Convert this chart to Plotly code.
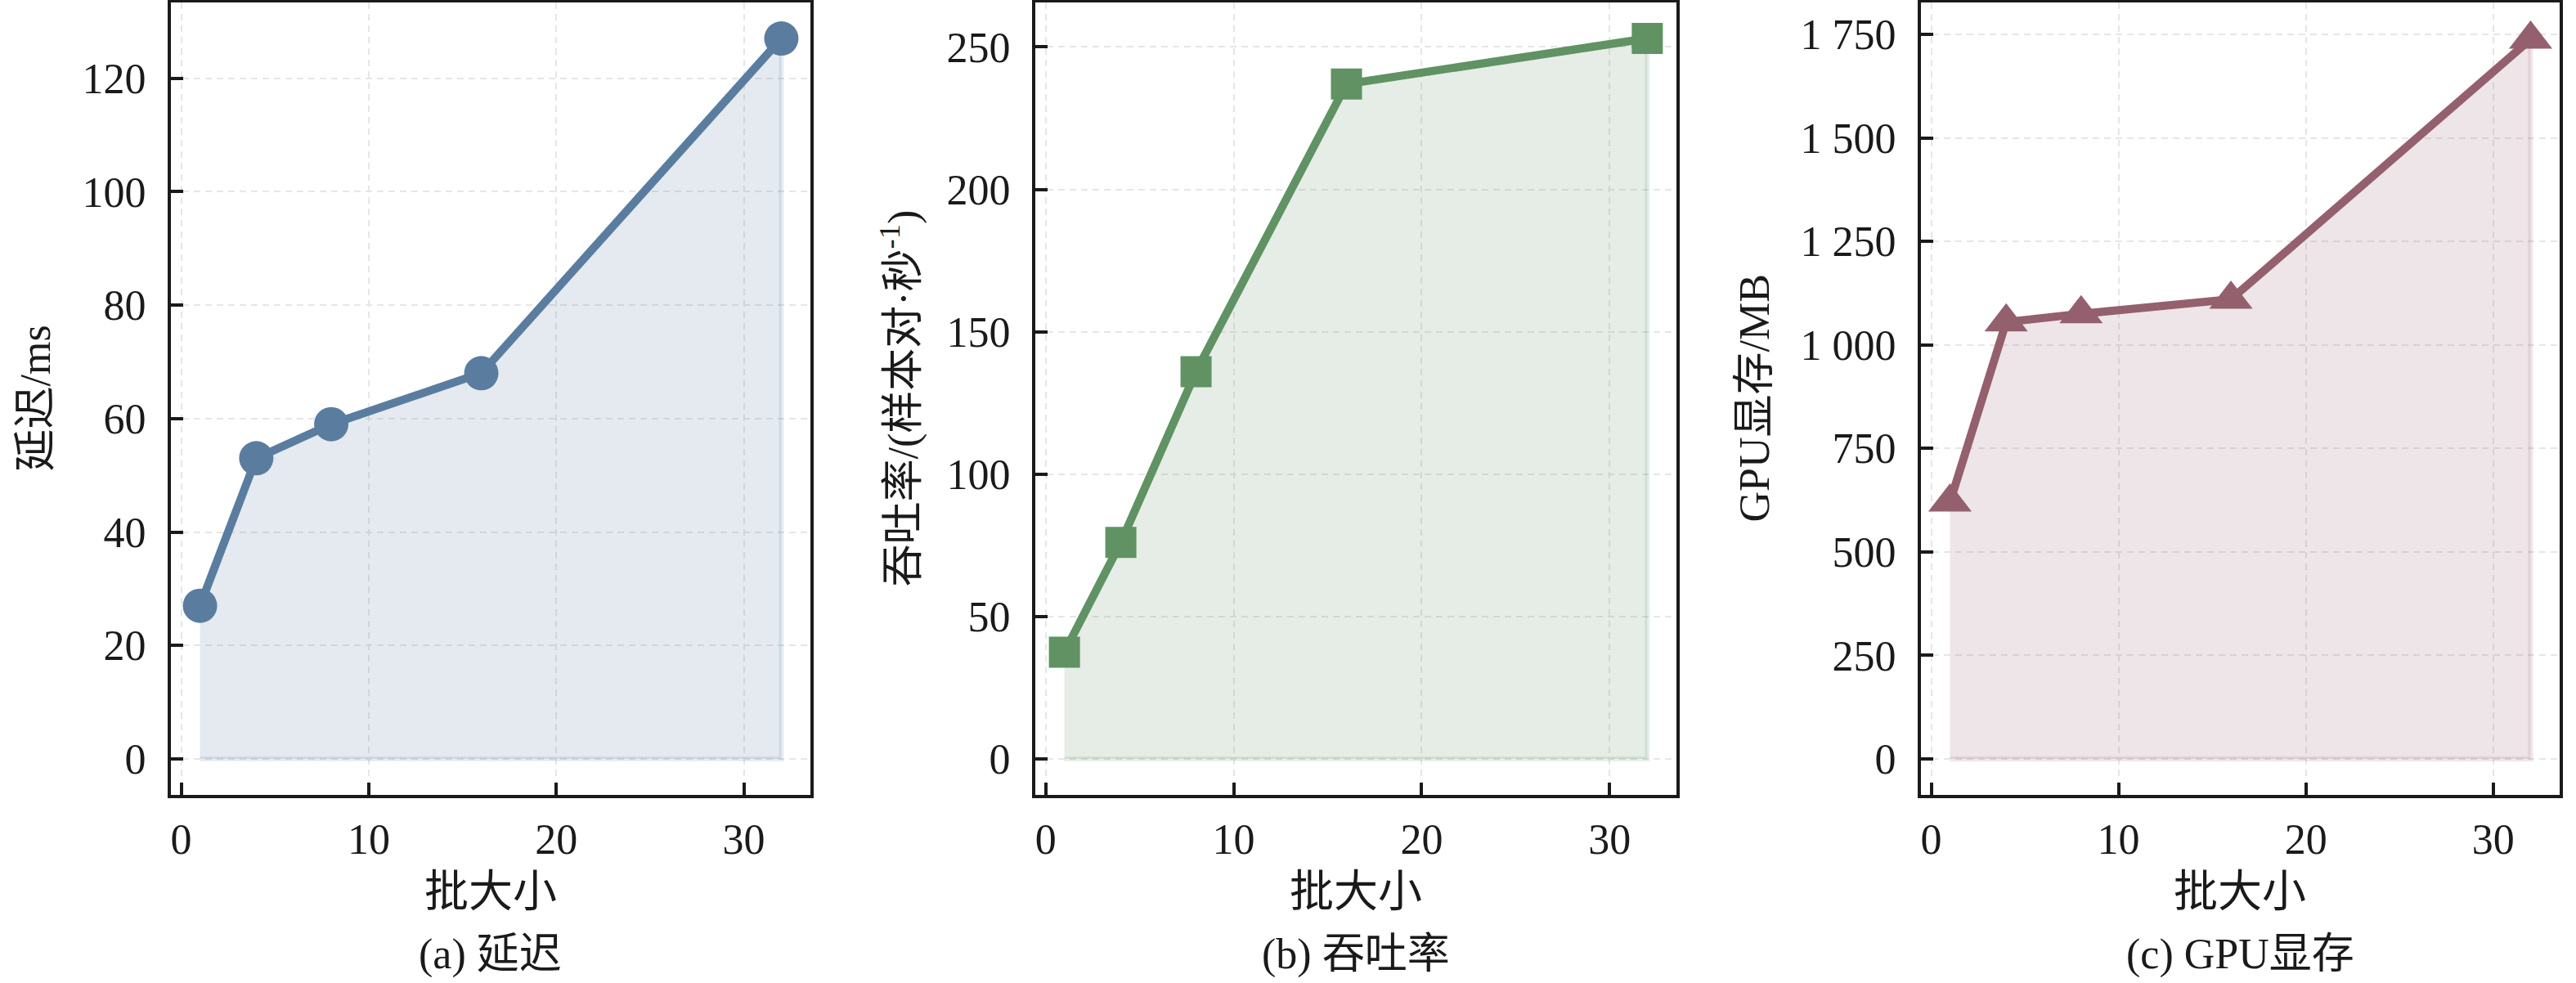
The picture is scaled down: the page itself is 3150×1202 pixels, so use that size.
import plotly.graph_objects as go

batch_size = [1, 4, 8, 16, 32]
latency_ms = [27, 53, 59, 68, 127]
throughput = [37.5, 76, 136, 237, 253]
gpu_mem_mb = [620, 1055, 1075, 1110, 1738]

panels = [
    dict(y=latency_ms, color=(90, 125, 159), symbol="circle", size=42,
         ytitle="延迟/ms", caption="(a) 延迟", yrange=[-6.35, 133.35],
         ydtick=20, xdom=[0.06635, 0.31460], ytx=44),
    dict(y=throughput, color=(96, 146, 100), symbol="square", size=38,
         ytitle="吞吐率/(样本对·秒<sup>-1</sup>)", caption="(b) 吞吐率", yrange=[-12.65, 265.65],
         ydtick=50, xdom=[0.40190, 0.65079], ytx=1101),
    dict(y=gpu_mem_mb, color=(148, 96, 110), symbol="triangle-up", size=46,
         ytitle="GPU显存/MB", caption="(c) GPU显存", yrange=[-87, 1827],
         ydtick=250, xdom=[0.74571, 0.99365], ytx=2146),
]

W, H = 3150, 1202
FONT = "Liberation Serif, Noto Sans CJK SC, serif"
ydom = [0.19135, 0.9975]

fig = go.Figure()
annotations = []

for i, p in enumerate(panels):
    n = "" if i == 0 else str(i + 1)
    r, g, b = p["color"]
    solid = f"rgb({r},{g},{b})"
    light = f"rgba({r},{g},{b},0.16)"
    edge = f"rgba({r},{g},{b},0.15)"

    # filled area under the curve (like fill_between)
    fig.add_trace(go.Scatter(
        x=batch_size + batch_size[::-1],
        y=p["y"] + [0] * len(p["y"]),
        fill="toself", fillcolor=light,
        mode="lines", line=dict(color=edge, width=6),
        hoverinfo="skip", showlegend=False,
        xaxis="x" + n, yaxis="y" + n,
    ))
    fig.add_trace(go.Scatter(
        x=batch_size, y=p["y"],
        mode="lines+markers",
        line=dict(color=solid, width=10),
        marker=dict(symbol=p["symbol"], size=p["size"], color=solid),
        showlegend=False,
        xaxis="x" + n, yaxis="y" + n,
    ))

    axis_common = dict(
        showline=True, linecolor="#1a1a1a", linewidth=4, mirror=True,
        ticks="inside", ticklen=15, tickwidth=4, tickcolor="#1a1a1a",
        showgrid=True, gridcolor="#e6e6e6", gridwidth=2, griddash="8px,6px",
        zeroline=False,
        tickfont=dict(family=FONT, size=52, color="#1a1a1a"),
    )
    fig.update_layout({
        "xaxis" + n: dict(axis_common, domain=p["xdom"], range=[-0.55, 33.55],
                          tick0=0, dtick=10, anchor="y" + n, ticklabelstandoff=6),
        "yaxis" + n: dict(axis_common, domain=ydom, range=p["yrange"],
                          tick0=0, dtick=p["ydtick"], anchor="x" + n,
                          ticklabelstandoff=16,
                          separatethousands=(i == 2)),
    })

    xc = (p["xdom"][0] + p["xdom"][1]) / 2
    annotations.append(dict(text="批大小", x=xc, y=(H - 1091) / H, xref="paper", yref="paper",
                            showarrow=False, xanchor="center", yanchor="middle",
                            font=dict(family=FONT, size=54, color="#1a1a1a")))
    annotations.append(dict(text=p["caption"], x=xc, y=(H - 1167) / H, xref="paper", yref="paper",
                            showarrow=False, xanchor="center", yanchor="middle",
                            font=dict(family=FONT, size=52, color="#1a1a1a")))
    annotations.append(dict(text=p["ytitle"], x=p["ytx"] / W, y=(ydom[0] + ydom[1]) / 2,
                            xref="paper", yref="paper", textangle=-90,
                            showarrow=False, xanchor="center", yanchor="middle",
                            font=dict(family=FONT, size=52, color="#1a1a1a")))

fig.update_layout(
    width=W, height=H,
    margin=dict(l=0, r=0, t=0, b=0),
    paper_bgcolor="white", plot_bgcolor="white",
    separators=". ",
    annotations=annotations,
)

# drop the browser's default body margin so the figure sits at the page corner
fig.write_html("out.html", config={"displayModeBar": False},
               post_script="document.body.style.margin='0';")
